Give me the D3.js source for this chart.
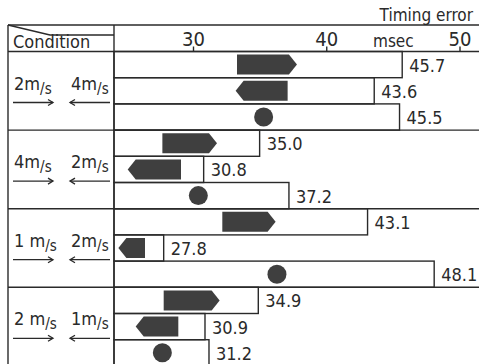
<!DOCTYPE html>
<html><head><meta charset="utf-8">
<script src="https://cdn.jsdelivr.net/npm/d3@7"></script>
<style>
html,body{margin:0;padding:0;background:#fff;}
svg{display:block;font-family:"DejaVu Sans Condensed","DejaVu Sans",sans-serif;}
</style></head><body>
<svg id="chart" width="479" height="364"></svg>
<script>
// ---- data ----
const leftSpeeds = ["2m", "4m", "1 m", "2 m"];      // object moving right (→)
const rightSpeeds = ["4m", "2m", "2m", "1m"];       // object moving left (←)
const seriesNames = ["rightArrow", "leftArrow", "circle"];
const rightArrowValues = [45.7, 35.0, 43.1, 34.9];
const leftArrowValues = [43.6, 30.8, 27.8, 30.9];
const circleValues = [45.5, 37.2, 48.1, 31.2];
// icon extents, expressed in msec on the same axis
const rightIconFrom = [33.3, 27.7, 32.2, 27.8];
const rightIconTo = [37.8, 31.8, 36.2, 32.0];
const leftIconFrom = [33.2, 25.1, 24.4, 25.7];
const leftIconTo = [37.1, 29.1, 26.4, 28.9];
const circleIconAt = [35.3, 30.4, 36.3, 27.7];
const tickValues = [30, 40, 50];
const axisTitle = "Timing error";
const unitLabel = "msec";
const headerLabel = "Condition";

// ---- layout ----
const W = 479, H = 364;
const leftX = 8, colX = 114, topY = 25, headY = 51.5, rowH = 26.2;
const ink = "#2a2a2a", fillInk = "#3f3f3f";

const svg = d3.select("#chart");
const x = d3.scaleLinear().domain([30, 50]).range([193, 459.5]);

const rows = [];
leftSpeeds.forEach((_, g) => {
  rows.push({g, type: "rightArrow", v: rightArrowValues[g], a: rightIconFrom[g], b: rightIconTo[g]});
  rows.push({g, type: "leftArrow", v: leftArrowValues[g], a: leftIconFrom[g], b: leftIconTo[g]});
  rows.push({g, type: "circle", v: circleValues[g], a: circleIconAt[g]});
});
rows.forEach((r, i) => { r.top = headY + i * rowH; r.cy = r.top + rowH / 2; });

const lines = svg.append("g").attr("stroke", ink).attr("stroke-width", 1.4).attr("fill", "none");
// frame
lines.append("line").attr("x1", leftX).attr("x2", W).attr("y1", topY).attr("y2", topY);
lines.append("line").attr("x1", leftX).attr("x2", W).attr("y1", headY).attr("y2", headY);
lines.append("line").attr("x1", leftX).attr("x2", leftX).attr("y1", topY).attr("y2", H + 5);
lines.append("line").attr("x1", colX).attr("x2", colX).attr("y1", topY).attr("y2", H + 5);
lines.append("path").attr("d", `M${leftX},${topY}L50,35L${colX},35`);
// group separators
leftSpeeds.forEach((_, g) => {
  const y = headY + (g + 1) * 3 * rowH;
  lines.append("line").attr("x1", leftX).attr("x2", W).attr("y1", y).attr("y2", y);
});
// bars
lines.selectAll("rect.bar").data(rows).join("rect").attr("class", "bar")
  .attr("x", colX).attr("y", d => d.top)
  .attr("width", d => x(d.v) - colX).attr("height", rowH);

// icons
const hh = 10, head = 8;
const icons = svg.append("g").attr("fill", fillInk);
icons.selectAll("path.ra").data(rows.filter(d => d.type === "rightArrow")).join("path")
  .attr("d", d => {
    const a = x(d.a), b = x(d.b), y = d.cy;
    return `M${a},${y - hh}L${b - head},${y - hh}L${b},${y}L${b - head},${y + hh}L${a},${y + hh}Z`;
  });
icons.selectAll("path.la").data(rows.filter(d => d.type === "leftArrow")).join("path")
  .attr("d", d => {
    const a = x(d.a), b = x(d.b), y = d.cy;
    return `M${a},${y}L${a + head},${y - hh}L${b},${y - hh}L${b},${y + hh}L${a + head},${y + hh}Z`;
  });
icons.selectAll("circle").data(rows.filter(d => d.type === "circle")).join("circle")
  .attr("cx", d => x(d.a)).attr("cy", d => d.cy).attr("r", 9.5);

// value labels
svg.append("g").attr("fill", ink).attr("font-size", 18)
  .selectAll("text").data(rows).join("text")
  .attr("x", d => x(d.v) + 7).attr("y", d => d.cy + 7)
  .text(d => d.v.toFixed(1));

// axis
const axis = svg.append("g").attr("transform", `translate(0,${headY})`)
  .call(d3.axisTop(x).tickValues(tickValues).tickSize(5).tickPadding(1).tickFormat(d3.format("d")));
axis.select(".domain").remove();
axis.selectAll(".tick line").attr("stroke", ink).attr("stroke-width", 1.4);
axis.selectAll(".tick text").attr("fill", ink).attr("font-size", 20)
  .attr("font-family", '"DejaVu Sans Condensed","DejaVu Sans",sans-serif');

svg.append("text").attr("x", 373).attr("y", 47).attr("font-size", 17).attr("fill", ink).text(unitLabel);
svg.append("text").attr("x", 473).attr("y", 21).attr("text-anchor", "end").attr("font-size", 17).attr("fill", ink).text(axisTitle);
svg.append("text").attr("x", 13).attr("y", 48).attr("font-size", 18).attr("fill", ink).text(headerLabel);

// condition labels
const cond = svg.append("g").attr("fill", ink);
function speedLabel(xx, y, txt) {
  const t = cond.append("text").attr("x", xx).attr("y", y).attr("font-size", 18);
  t.append("tspan").text(txt);
  t.append("tspan").attr("dy", 4).attr("font-size", 15).text("/s");
}
leftSpeeds.forEach((s, g) => {
  const gt = headY + g * 3 * rowH;
  speedLabel(14, gt + 38, s);
  speedLabel(71, gt + 38, rightSpeeds[g]);
  const ay = gt + 51;
  const ar = cond.append("g").attr("stroke", ink).attr("stroke-width", 1.3).attr("fill", "none");
  ar.append("line").attr("x1", 13).attr("x2", 53).attr("y1", ay).attr("y2", ay);
  ar.append("path").attr("d", `M48,${ay - 3}L53,${ay}L48,${ay + 3}`);
  ar.append("line").attr("x1", 70).attr("x2", 110).attr("y1", ay).attr("y2", ay);
  ar.append("path").attr("d", `M75,${ay - 3}L70,${ay}L75,${ay + 3}`);
});
</script>
</body></html>
